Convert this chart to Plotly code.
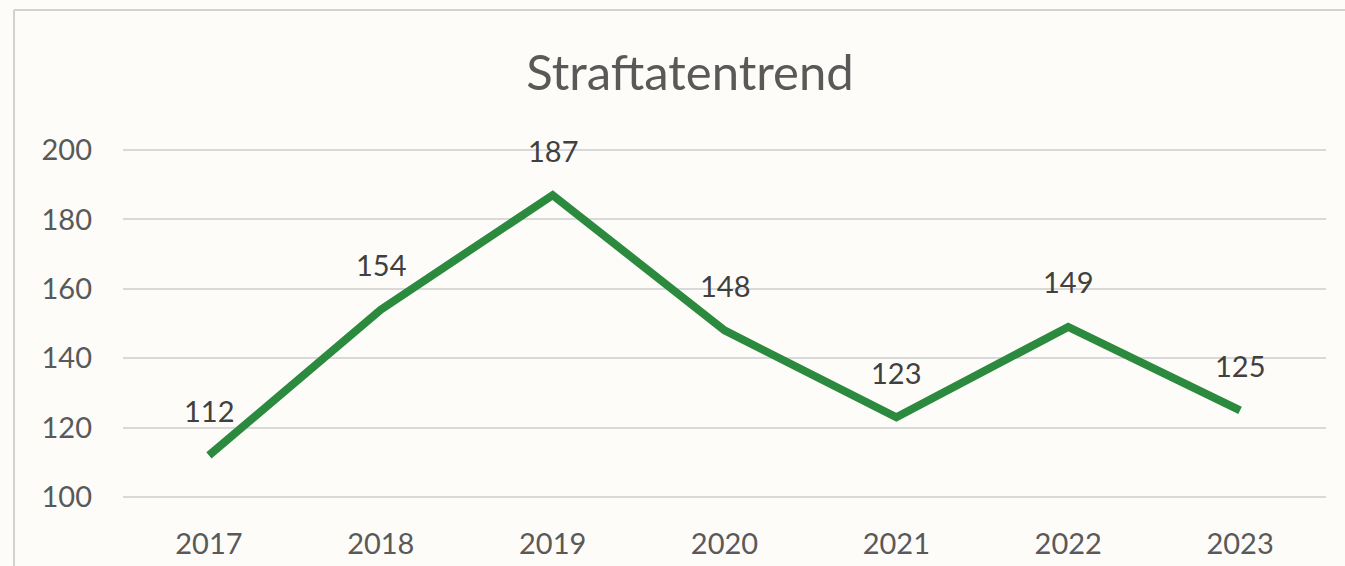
import plotly.graph_objects as go

years = ["2017", "2018", "2019", "2020", "2021", "2022", "2023"]
counts = [112, 154, 187, 148, 123, 149, 125]
y_ticks = [100, 120, 140, 160, 180, 200]

W, H = 1345, 566
L, R, T, B = 123, 19, 143, 62
plot_w = W - L - R
plot_h = H - T - B

def px_x(px):
    return (px - L) / plot_w

def px_y(py):
    return (H - B - py) / plot_h

fig = go.Figure()
fig.add_trace(go.Scatter(
    x=years, y=counts, mode="lines",
    line=dict(color="#2b8a3e", width=8),
    hoverinfo="skip",
))

# value labels above each point (category index on the x axis)
for i, v in enumerate(counts):
    fig.add_annotation(
        xref="x", yref="y", x=i, y=v, text=str(v), showarrow=False,
        yshift=45, font=dict(family="Lato", size=29, color="#404040"),
    )

# chart frame (top and left edges)
frame = dict(color="#d4d2cf", width=2)
fig.add_shape(type="line", xref="paper", yref="paper",
              x0=px_x(14), x1=px_x(W + 5), y0=px_y(10), y1=px_y(10), line=frame)
fig.add_shape(type="line", xref="paper", yref="paper",
              x0=px_x(14), x1=px_x(14), y0=px_y(10), y1=px_y(H + 5), line=frame)

fig.update_layout(
    width=W, height=H,
    margin=dict(l=L, r=R, t=T, b=B),
    paper_bgcolor="#fdfcf9",
    plot_bgcolor="#fdfcf9",
    showlegend=False,
    title=dict(
        text="Straftatentrend",
        x=690 / W, xref="container", xanchor="center",
        y=1 - 73 / H, yref="container", yanchor="middle",
        font=dict(family="Lato", size=49, color="#595959"),
    ),
    xaxis=dict(
        type="category", range=[-0.5, 6.5], automargin=False,
        showgrid=False, zeroline=False, showline=False,
        tickfont=dict(family="Lato", size=29, color="#595959"),
        ticks="", ticklabelstandoff=20,
    ),
    yaxis=dict(
        range=[98, 202], tickvals=y_ticks, automargin=False,
        showgrid=True, gridcolor="#d9d9d9", gridwidth=1.5,
        zeroline=False, showline=False,
        tickfont=dict(family="Lato", size=29, color="#595959"),
        ticks="", ticklabelstandoff=30,
    ),
)

fig.write_html("out.html")
